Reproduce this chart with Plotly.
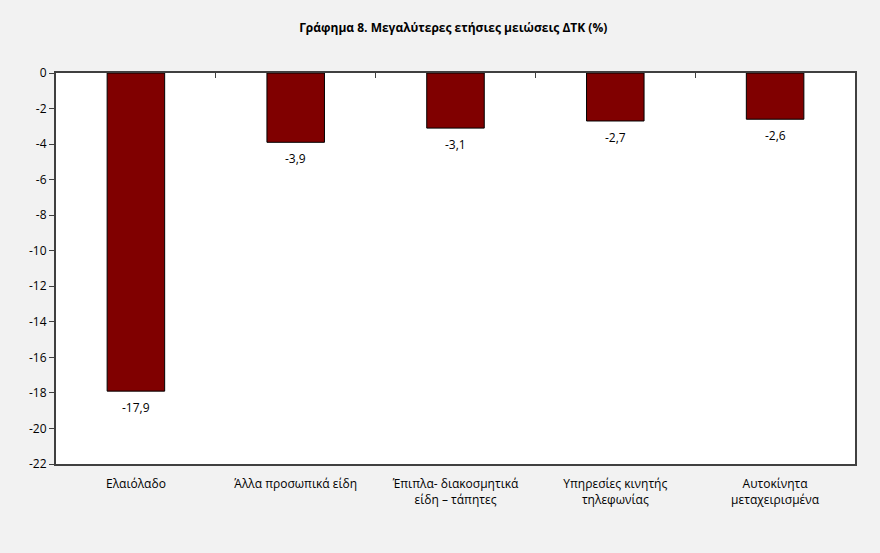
import plotly.graph_objects as go

categories = ["Ελαιόλαδο", "Άλλα προσωπικά είδη", "Έπιπλα- διακοσμητικά<br>είδη – τάπητες",
              "Υπηρεσίες κινητής<br>τηλεφωνίας", "Αυτοκίνητα<br>μεταχειρισμένα"]
values = [-17.9, -3.9, -3.1, -2.7, -2.6]
value_labels = ["-17,9", "-3,9", "-3,1", "-2,7", "-2,6"]
yticks = list(range(0, -23, -2))

FONT = "Open Sans"

fig = go.Figure()
fig.add_trace(go.Bar(
    x=categories, y=values, width=0.36,
    marker=dict(color="#800000", line=dict(color="#000000", width=1)),
    hoverinfo="skip", showlegend=False,
))
# invisible trace to carry the top (zero-line) axis with boundary ticks
fig.add_trace(go.Scatter(x=categories, y=[0]*len(categories), xaxis="x2",
                         mode="markers", marker=dict(opacity=0), showlegend=False,
                         hoverinfo="skip"))

for c, v, t in zip(categories, values, value_labels):
    fig.add_annotation(x=c, y=v, text=t, showarrow=False, yanchor="top",
                       yshift=-6, font=dict(family=FONT, size=12, color="#000000"))

fig.update_layout(
    width=880, height=553,
    paper_bgcolor="#f2f2f2", plot_bgcolor="#ffffff",
    margin=dict(l=56, r=25, t=73, b=89),
    title=dict(text="<b>Γράφημα 8. Μεγαλύτερες ετήσιες μειώσεις ΔΤΚ (%)</b>",
               x=0.515, xanchor="center", y=0.95, yanchor="middle",
               font=dict(family=FONT, size=12, color="#000000")),
    font=dict(family=FONT, size=12, color="#000000"),
    bargap=0.64,
    xaxis=dict(showline=True, linecolor="#404040", linewidth=2, mirror=True,
               ticks="", showgrid=False, tickfont=dict(family=FONT, size=12),
               ticklabelstandoff=8),
    xaxis2=dict(overlaying="x", matches="x", side="top", showticklabels=False,
                ticks="inside", ticklen=5, tickcolor="#404040", tickson="boundaries",
                showline=False, showgrid=False),
    yaxis=dict(range=[-22, 0], tickvals=yticks, ticktext=[str(v) for v in yticks],
               showline=True, linecolor="#404040", linewidth=2, mirror=True,
               ticks="outside", ticklen=5, tickcolor="#404040", showgrid=False,
               zeroline=False, tickfont=dict(family=FONT, size=12)),
)

fig.write_html("out.html", config={"displayModeBar": False},
               post_script="document.body.style.margin='0';"
                           "document.body.style.background='#f2f2f2';")
